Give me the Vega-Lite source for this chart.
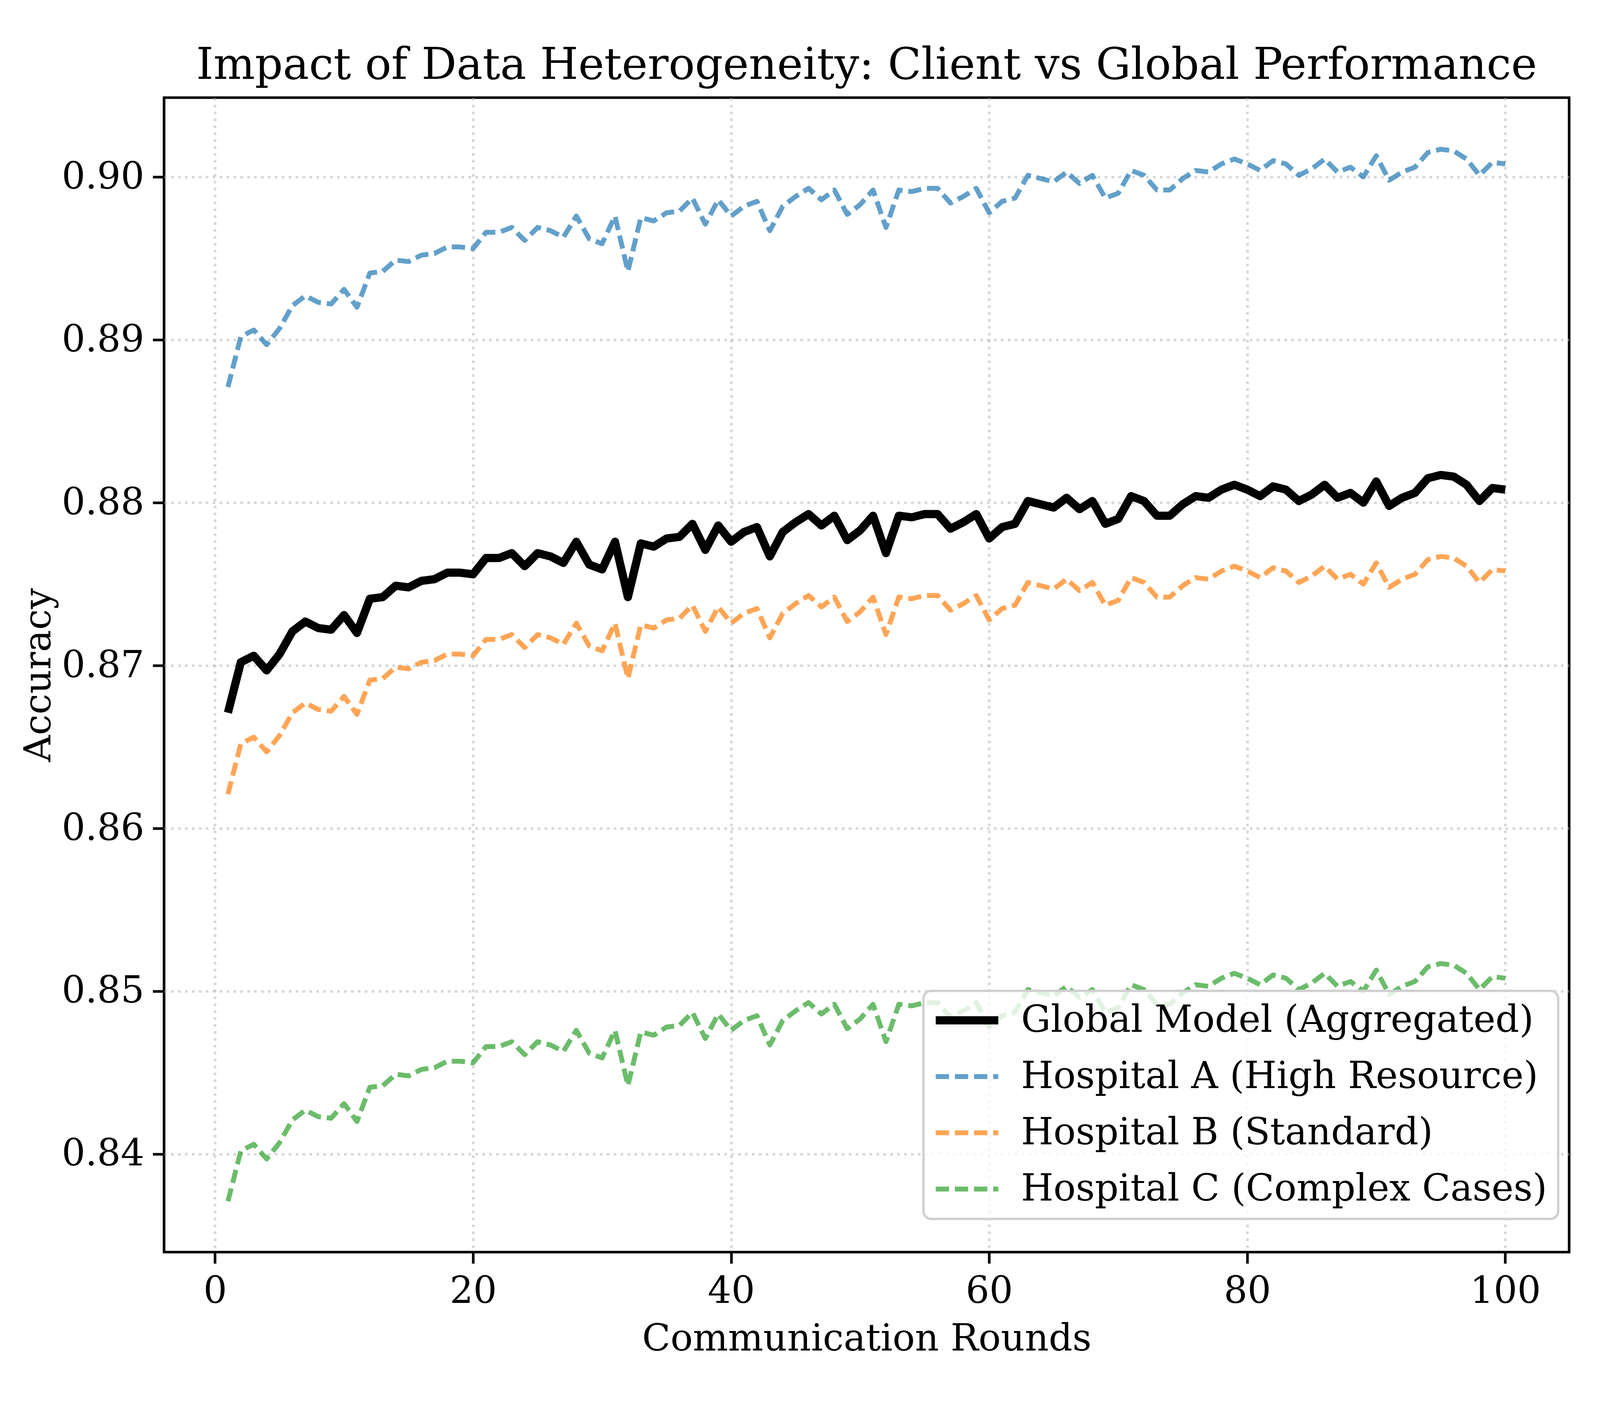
{
"$schema": "https://vega.github.io/schema/vega-lite/v6.json",
"width": 3597, "height": 2956,
"autosize": {"type": "none"},
"padding": {"left": 420, "top": 250, "right": 73, "bottom": 394},
"background": "white",
"title": {"text": "Impact of Data Heterogeneity: Client vs Global Performance", "font": "DejaVu Serif", "fontSize": 112, "fontWeight": "normal", "color": "black", "offset": 24},
"data": {"values": [
{"round":1,"series":"G","accuracy":0.8671},{"round":2,"series":"G","accuracy":0.8702},{"round":3,"series":"G","accuracy":0.8706},{"round":4,"series":"G","accuracy":0.8697},{"round":5,"series":"G","accuracy":0.8707},{"round":6,"series":"G","accuracy":0.8721},{"round":7,"series":"G","accuracy":0.8727},{"round":8,"series":"G","accuracy":0.8723},{"round":9,"series":"G","accuracy":0.8722},{"round":10,"series":"G","accuracy":0.8731},
{"round":11,"series":"G","accuracy":0.8720},{"round":12,"series":"G","accuracy":0.8741},{"round":13,"series":"G","accuracy":0.8742},{"round":14,"series":"G","accuracy":0.8749},{"round":15,"series":"G","accuracy":0.8748},{"round":16,"series":"G","accuracy":0.8752},{"round":17,"series":"G","accuracy":0.8753},{"round":18,"series":"G","accuracy":0.8757},{"round":19,"series":"G","accuracy":0.8757},{"round":20,"series":"G","accuracy":0.8756},
{"round":21,"series":"G","accuracy":0.8766},{"round":22,"series":"G","accuracy":0.8766},{"round":23,"series":"G","accuracy":0.8769},{"round":24,"series":"G","accuracy":0.8761},{"round":25,"series":"G","accuracy":0.8769},{"round":26,"series":"G","accuracy":0.8767},{"round":27,"series":"G","accuracy":0.8763},{"round":28,"series":"G","accuracy":0.8776},{"round":29,"series":"G","accuracy":0.8762},{"round":30,"series":"G","accuracy":0.8759},
{"round":31,"series":"G","accuracy":0.8776},{"round":32,"series":"G","accuracy":0.8742},{"round":33,"series":"G","accuracy":0.8775},{"round":34,"series":"G","accuracy":0.8773},{"round":35,"series":"G","accuracy":0.8778},{"round":36,"series":"G","accuracy":0.8779},{"round":37,"series":"G","accuracy":0.8787},{"round":38,"series":"G","accuracy":0.8771},{"round":39,"series":"G","accuracy":0.8786},{"round":40,"series":"G","accuracy":0.8776},
{"round":41,"series":"G","accuracy":0.8782},{"round":42,"series":"G","accuracy":0.8785},{"round":43,"series":"G","accuracy":0.8767},{"round":44,"series":"G","accuracy":0.8782},{"round":45,"series":"G","accuracy":0.8788},{"round":46,"series":"G","accuracy":0.8793},{"round":47,"series":"G","accuracy":0.8786},{"round":48,"series":"G","accuracy":0.8792},{"round":49,"series":"G","accuracy":0.8777},{"round":50,"series":"G","accuracy":0.8783},
{"round":51,"series":"G","accuracy":0.8792},{"round":52,"series":"G","accuracy":0.8769},{"round":53,"series":"G","accuracy":0.8792},{"round":54,"series":"G","accuracy":0.8791},{"round":55,"series":"G","accuracy":0.8793},{"round":56,"series":"G","accuracy":0.8793},{"round":57,"series":"G","accuracy":0.8784},{"round":58,"series":"G","accuracy":0.8788},{"round":59,"series":"G","accuracy":0.8793},{"round":60,"series":"G","accuracy":0.8778},
{"round":61,"series":"G","accuracy":0.8785},{"round":62,"series":"G","accuracy":0.8787},{"round":63,"series":"G","accuracy":0.8801},{"round":64,"series":"G","accuracy":0.8799},{"round":65,"series":"G","accuracy":0.8797},{"round":66,"series":"G","accuracy":0.8803},{"round":67,"series":"G","accuracy":0.8796},{"round":68,"series":"G","accuracy":0.8801},{"round":69,"series":"G","accuracy":0.8787},{"round":70,"series":"G","accuracy":0.8790},
{"round":71,"series":"G","accuracy":0.8804},{"round":72,"series":"G","accuracy":0.8801},{"round":73,"series":"G","accuracy":0.8792},{"round":74,"series":"G","accuracy":0.8792},{"round":75,"series":"G","accuracy":0.8799},{"round":76,"series":"G","accuracy":0.8804},{"round":77,"series":"G","accuracy":0.8803},{"round":78,"series":"G","accuracy":0.8808},{"round":79,"series":"G","accuracy":0.8811},{"round":80,"series":"G","accuracy":0.8808},
{"round":81,"series":"G","accuracy":0.8804},{"round":82,"series":"G","accuracy":0.8810},{"round":83,"series":"G","accuracy":0.8808},{"round":84,"series":"G","accuracy":0.8801},{"round":85,"series":"G","accuracy":0.8805},{"round":86,"series":"G","accuracy":0.8811},{"round":87,"series":"G","accuracy":0.8803},{"round":88,"series":"G","accuracy":0.8806},{"round":89,"series":"G","accuracy":0.8800},{"round":90,"series":"G","accuracy":0.8813},
{"round":91,"series":"G","accuracy":0.8798},{"round":92,"series":"G","accuracy":0.8803},{"round":93,"series":"G","accuracy":0.8806},{"round":94,"series":"G","accuracy":0.8815},{"round":95,"series":"G","accuracy":0.8817},{"round":96,"series":"G","accuracy":0.8816},{"round":97,"series":"G","accuracy":0.8811},{"round":98,"series":"G","accuracy":0.8801},{"round":99,"series":"G","accuracy":0.8809},{"round":100,"series":"G","accuracy":0.8808},
{"round":1,"series":"A","accuracy":0.8871},{"round":2,"series":"A","accuracy":0.8902},{"round":3,"series":"A","accuracy":0.8906},{"round":4,"series":"A","accuracy":0.8897},{"round":5,"series":"A","accuracy":0.8907},{"round":6,"series":"A","accuracy":0.8921},{"round":7,"series":"A","accuracy":0.8927},{"round":8,"series":"A","accuracy":0.8923},{"round":9,"series":"A","accuracy":0.8922},{"round":10,"series":"A","accuracy":0.8931},
{"round":11,"series":"A","accuracy":0.8920},{"round":12,"series":"A","accuracy":0.8941},{"round":13,"series":"A","accuracy":0.8942},{"round":14,"series":"A","accuracy":0.8949},{"round":15,"series":"A","accuracy":0.8948},{"round":16,"series":"A","accuracy":0.8952},{"round":17,"series":"A","accuracy":0.8953},{"round":18,"series":"A","accuracy":0.8957},{"round":19,"series":"A","accuracy":0.8957},{"round":20,"series":"A","accuracy":0.8956},
{"round":21,"series":"A","accuracy":0.8966},{"round":22,"series":"A","accuracy":0.8966},{"round":23,"series":"A","accuracy":0.8969},{"round":24,"series":"A","accuracy":0.8961},{"round":25,"series":"A","accuracy":0.8969},{"round":26,"series":"A","accuracy":0.8967},{"round":27,"series":"A","accuracy":0.8963},{"round":28,"series":"A","accuracy":0.8976},{"round":29,"series":"A","accuracy":0.8962},{"round":30,"series":"A","accuracy":0.8959},
{"round":31,"series":"A","accuracy":0.8976},{"round":32,"series":"A","accuracy":0.8942},{"round":33,"series":"A","accuracy":0.8975},{"round":34,"series":"A","accuracy":0.8973},{"round":35,"series":"A","accuracy":0.8978},{"round":36,"series":"A","accuracy":0.8979},{"round":37,"series":"A","accuracy":0.8987},{"round":38,"series":"A","accuracy":0.8971},{"round":39,"series":"A","accuracy":0.8986},{"round":40,"series":"A","accuracy":0.8976},
{"round":41,"series":"A","accuracy":0.8982},{"round":42,"series":"A","accuracy":0.8985},{"round":43,"series":"A","accuracy":0.8967},{"round":44,"series":"A","accuracy":0.8982},{"round":45,"series":"A","accuracy":0.8988},{"round":46,"series":"A","accuracy":0.8993},{"round":47,"series":"A","accuracy":0.8986},{"round":48,"series":"A","accuracy":0.8992},{"round":49,"series":"A","accuracy":0.8977},{"round":50,"series":"A","accuracy":0.8983},
{"round":51,"series":"A","accuracy":0.8992},{"round":52,"series":"A","accuracy":0.8969},{"round":53,"series":"A","accuracy":0.8992},{"round":54,"series":"A","accuracy":0.8991},{"round":55,"series":"A","accuracy":0.8993},{"round":56,"series":"A","accuracy":0.8993},{"round":57,"series":"A","accuracy":0.8984},{"round":58,"series":"A","accuracy":0.8988},{"round":59,"series":"A","accuracy":0.8993},{"round":60,"series":"A","accuracy":0.8978},
{"round":61,"series":"A","accuracy":0.8985},{"round":62,"series":"A","accuracy":0.8987},{"round":63,"series":"A","accuracy":0.9001},{"round":64,"series":"A","accuracy":0.8999},{"round":65,"series":"A","accuracy":0.8997},{"round":66,"series":"A","accuracy":0.9003},{"round":67,"series":"A","accuracy":0.8996},{"round":68,"series":"A","accuracy":0.9001},{"round":69,"series":"A","accuracy":0.8987},{"round":70,"series":"A","accuracy":0.8990},
{"round":71,"series":"A","accuracy":0.9004},{"round":72,"series":"A","accuracy":0.9001},{"round":73,"series":"A","accuracy":0.8992},{"round":74,"series":"A","accuracy":0.8992},{"round":75,"series":"A","accuracy":0.8999},{"round":76,"series":"A","accuracy":0.9004},{"round":77,"series":"A","accuracy":0.9003},{"round":78,"series":"A","accuracy":0.9008},{"round":79,"series":"A","accuracy":0.9011},{"round":80,"series":"A","accuracy":0.9008},
{"round":81,"series":"A","accuracy":0.9004},{"round":82,"series":"A","accuracy":0.9010},{"round":83,"series":"A","accuracy":0.9008},{"round":84,"series":"A","accuracy":0.9001},{"round":85,"series":"A","accuracy":0.9005},{"round":86,"series":"A","accuracy":0.9011},{"round":87,"series":"A","accuracy":0.9003},{"round":88,"series":"A","accuracy":0.9006},{"round":89,"series":"A","accuracy":0.9000},{"round":90,"series":"A","accuracy":0.9013},
{"round":91,"series":"A","accuracy":0.8998},{"round":92,"series":"A","accuracy":0.9003},{"round":93,"series":"A","accuracy":0.9006},{"round":94,"series":"A","accuracy":0.9015},{"round":95,"series":"A","accuracy":0.9017},{"round":96,"series":"A","accuracy":0.9016},{"round":97,"series":"A","accuracy":0.9011},{"round":98,"series":"A","accuracy":0.9001},{"round":99,"series":"A","accuracy":0.9009},{"round":100,"series":"A","accuracy":0.9008},
{"round":1,"series":"B","accuracy":0.8621},{"round":2,"series":"B","accuracy":0.8652},{"round":3,"series":"B","accuracy":0.8656},{"round":4,"series":"B","accuracy":0.8647},{"round":5,"series":"B","accuracy":0.8657},{"round":6,"series":"B","accuracy":0.8671},{"round":7,"series":"B","accuracy":0.8677},{"round":8,"series":"B","accuracy":0.8673},{"round":9,"series":"B","accuracy":0.8672},{"round":10,"series":"B","accuracy":0.8681},
{"round":11,"series":"B","accuracy":0.8670},{"round":12,"series":"B","accuracy":0.8691},{"round":13,"series":"B","accuracy":0.8692},{"round":14,"series":"B","accuracy":0.8699},{"round":15,"series":"B","accuracy":0.8698},{"round":16,"series":"B","accuracy":0.8702},{"round":17,"series":"B","accuracy":0.8703},{"round":18,"series":"B","accuracy":0.8707},{"round":19,"series":"B","accuracy":0.8707},{"round":20,"series":"B","accuracy":0.8706},
{"round":21,"series":"B","accuracy":0.8716},{"round":22,"series":"B","accuracy":0.8716},{"round":23,"series":"B","accuracy":0.8719},{"round":24,"series":"B","accuracy":0.8711},{"round":25,"series":"B","accuracy":0.8719},{"round":26,"series":"B","accuracy":0.8717},{"round":27,"series":"B","accuracy":0.8713},{"round":28,"series":"B","accuracy":0.8726},{"round":29,"series":"B","accuracy":0.8712},{"round":30,"series":"B","accuracy":0.8709},
{"round":31,"series":"B","accuracy":0.8726},{"round":32,"series":"B","accuracy":0.8692},{"round":33,"series":"B","accuracy":0.8725},{"round":34,"series":"B","accuracy":0.8723},{"round":35,"series":"B","accuracy":0.8728},{"round":36,"series":"B","accuracy":0.8729},{"round":37,"series":"B","accuracy":0.8737},{"round":38,"series":"B","accuracy":0.8721},{"round":39,"series":"B","accuracy":0.8736},{"round":40,"series":"B","accuracy":0.8726},
{"round":41,"series":"B","accuracy":0.8732},{"round":42,"series":"B","accuracy":0.8735},{"round":43,"series":"B","accuracy":0.8717},{"round":44,"series":"B","accuracy":0.8732},{"round":45,"series":"B","accuracy":0.8738},{"round":46,"series":"B","accuracy":0.8743},{"round":47,"series":"B","accuracy":0.8736},{"round":48,"series":"B","accuracy":0.8742},{"round":49,"series":"B","accuracy":0.8727},{"round":50,"series":"B","accuracy":0.8733},
{"round":51,"series":"B","accuracy":0.8742},{"round":52,"series":"B","accuracy":0.8719},{"round":53,"series":"B","accuracy":0.8742},{"round":54,"series":"B","accuracy":0.8741},{"round":55,"series":"B","accuracy":0.8743},{"round":56,"series":"B","accuracy":0.8743},{"round":57,"series":"B","accuracy":0.8734},{"round":58,"series":"B","accuracy":0.8738},{"round":59,"series":"B","accuracy":0.8743},{"round":60,"series":"B","accuracy":0.8728},
{"round":61,"series":"B","accuracy":0.8735},{"round":62,"series":"B","accuracy":0.8737},{"round":63,"series":"B","accuracy":0.8751},{"round":64,"series":"B","accuracy":0.8749},{"round":65,"series":"B","accuracy":0.8747},{"round":66,"series":"B","accuracy":0.8753},{"round":67,"series":"B","accuracy":0.8746},{"round":68,"series":"B","accuracy":0.8751},{"round":69,"series":"B","accuracy":0.8737},{"round":70,"series":"B","accuracy":0.8740},
{"round":71,"series":"B","accuracy":0.8754},{"round":72,"series":"B","accuracy":0.8751},{"round":73,"series":"B","accuracy":0.8742},{"round":74,"series":"B","accuracy":0.8742},{"round":75,"series":"B","accuracy":0.8749},{"round":76,"series":"B","accuracy":0.8754},{"round":77,"series":"B","accuracy":0.8753},{"round":78,"series":"B","accuracy":0.8758},{"round":79,"series":"B","accuracy":0.8761},{"round":80,"series":"B","accuracy":0.8758},
{"round":81,"series":"B","accuracy":0.8754},{"round":82,"series":"B","accuracy":0.8760},{"round":83,"series":"B","accuracy":0.8758},{"round":84,"series":"B","accuracy":0.8751},{"round":85,"series":"B","accuracy":0.8755},{"round":86,"series":"B","accuracy":0.8761},{"round":87,"series":"B","accuracy":0.8753},{"round":88,"series":"B","accuracy":0.8756},{"round":89,"series":"B","accuracy":0.8750},{"round":90,"series":"B","accuracy":0.8763},
{"round":91,"series":"B","accuracy":0.8748},{"round":92,"series":"B","accuracy":0.8753},{"round":93,"series":"B","accuracy":0.8756},{"round":94,"series":"B","accuracy":0.8765},{"round":95,"series":"B","accuracy":0.8767},{"round":96,"series":"B","accuracy":0.8766},{"round":97,"series":"B","accuracy":0.8761},{"round":98,"series":"B","accuracy":0.8751},{"round":99,"series":"B","accuracy":0.8759},{"round":100,"series":"B","accuracy":0.8758},
{"round":1,"series":"C","accuracy":0.8371},{"round":2,"series":"C","accuracy":0.8402},{"round":3,"series":"C","accuracy":0.8406},{"round":4,"series":"C","accuracy":0.8397},{"round":5,"series":"C","accuracy":0.8407},{"round":6,"series":"C","accuracy":0.8421},{"round":7,"series":"C","accuracy":0.8427},{"round":8,"series":"C","accuracy":0.8423},{"round":9,"series":"C","accuracy":0.8422},{"round":10,"series":"C","accuracy":0.8431},
{"round":11,"series":"C","accuracy":0.8420},{"round":12,"series":"C","accuracy":0.8441},{"round":13,"series":"C","accuracy":0.8442},{"round":14,"series":"C","accuracy":0.8449},{"round":15,"series":"C","accuracy":0.8448},{"round":16,"series":"C","accuracy":0.8452},{"round":17,"series":"C","accuracy":0.8453},{"round":18,"series":"C","accuracy":0.8457},{"round":19,"series":"C","accuracy":0.8457},{"round":20,"series":"C","accuracy":0.8456},
{"round":21,"series":"C","accuracy":0.8466},{"round":22,"series":"C","accuracy":0.8466},{"round":23,"series":"C","accuracy":0.8469},{"round":24,"series":"C","accuracy":0.8461},{"round":25,"series":"C","accuracy":0.8469},{"round":26,"series":"C","accuracy":0.8467},{"round":27,"series":"C","accuracy":0.8463},{"round":28,"series":"C","accuracy":0.8476},{"round":29,"series":"C","accuracy":0.8462},{"round":30,"series":"C","accuracy":0.8459},
{"round":31,"series":"C","accuracy":0.8476},{"round":32,"series":"C","accuracy":0.8442},{"round":33,"series":"C","accuracy":0.8475},{"round":34,"series":"C","accuracy":0.8473},{"round":35,"series":"C","accuracy":0.8478},{"round":36,"series":"C","accuracy":0.8479},{"round":37,"series":"C","accuracy":0.8487},{"round":38,"series":"C","accuracy":0.8471},{"round":39,"series":"C","accuracy":0.8486},{"round":40,"series":"C","accuracy":0.8476},
{"round":41,"series":"C","accuracy":0.8482},{"round":42,"series":"C","accuracy":0.8485},{"round":43,"series":"C","accuracy":0.8467},{"round":44,"series":"C","accuracy":0.8482},{"round":45,"series":"C","accuracy":0.8488},{"round":46,"series":"C","accuracy":0.8493},{"round":47,"series":"C","accuracy":0.8486},{"round":48,"series":"C","accuracy":0.8492},{"round":49,"series":"C","accuracy":0.8477},{"round":50,"series":"C","accuracy":0.8483},
{"round":51,"series":"C","accuracy":0.8492},{"round":52,"series":"C","accuracy":0.8469},{"round":53,"series":"C","accuracy":0.8492},{"round":54,"series":"C","accuracy":0.8491},{"round":55,"series":"C","accuracy":0.8493},{"round":56,"series":"C","accuracy":0.8493},{"round":57,"series":"C","accuracy":0.8484},{"round":58,"series":"C","accuracy":0.8488},{"round":59,"series":"C","accuracy":0.8493},{"round":60,"series":"C","accuracy":0.8478},
{"round":61,"series":"C","accuracy":0.8485},{"round":62,"series":"C","accuracy":0.8487},{"round":63,"series":"C","accuracy":0.8501},{"round":64,"series":"C","accuracy":0.8499},{"round":65,"series":"C","accuracy":0.8497},{"round":66,"series":"C","accuracy":0.8503},{"round":67,"series":"C","accuracy":0.8496},{"round":68,"series":"C","accuracy":0.8501},{"round":69,"series":"C","accuracy":0.8487},{"round":70,"series":"C","accuracy":0.8490},
{"round":71,"series":"C","accuracy":0.8504},{"round":72,"series":"C","accuracy":0.8501},{"round":73,"series":"C","accuracy":0.8492},{"round":74,"series":"C","accuracy":0.8492},{"round":75,"series":"C","accuracy":0.8499},{"round":76,"series":"C","accuracy":0.8504},{"round":77,"series":"C","accuracy":0.8503},{"round":78,"series":"C","accuracy":0.8508},{"round":79,"series":"C","accuracy":0.8511},{"round":80,"series":"C","accuracy":0.8508},
{"round":81,"series":"C","accuracy":0.8504},{"round":82,"series":"C","accuracy":0.8510},{"round":83,"series":"C","accuracy":0.8508},{"round":84,"series":"C","accuracy":0.8501},{"round":85,"series":"C","accuracy":0.8505},{"round":86,"series":"C","accuracy":0.8511},{"round":87,"series":"C","accuracy":0.8503},{"round":88,"series":"C","accuracy":0.8506},{"round":89,"series":"C","accuracy":0.8500},{"round":90,"series":"C","accuracy":0.8513},
{"round":91,"series":"C","accuracy":0.8498},{"round":92,"series":"C","accuracy":0.8503},{"round":93,"series":"C","accuracy":0.8506},{"round":94,"series":"C","accuracy":0.8515},{"round":95,"series":"C","accuracy":0.8517},{"round":96,"series":"C","accuracy":0.8516},{"round":97,"series":"C","accuracy":0.8511},{"round":98,"series":"C","accuracy":0.8501},{"round":99,"series":"C","accuracy":0.8509},{"round":100,"series":"C","accuracy":0.8508}
]},
"mark": {"type": "line", "strokeJoin": "round", "strokeCap": "butt"},
"encoding": {
  "x": {"field": "round", "type": "quantitative", "scale": {"domain": [-3.95, 104.95], "nice": false, "zero": false}, "axis": {"values": [0, 20, 40, 60, 80, 100], "title": "Communication Rounds", "titlePadding": 28, "labelPadding": 25}},
  "y": {"field": "accuracy", "type": "quantitative", "scale": {"domain": [0.83398, 0.90487], "nice": false, "zero": false}, "axis": {"values": [0.84, 0.85, 0.86, 0.87, 0.88, 0.89, 0.90], "format": ".2f", "title": "Accuracy", "titlePadding": 72, "labelPadding": 22}},
  "color": {"field": "series", "type": "nominal", "scale": {"domain": ["G", "A", "B", "C"], "range": ["#000000", "#1f77b4", "#ff7f0e", "#2ca02c"]}, "legend": {"title": null, "labelExpr": "datum.label == 'G' ? 'Global Model (Aggregated)' : datum.label == 'A' ? 'Hospital A (High Resource)' : datum.label == 'B' ? 'Hospital B (Standard)' : 'Hospital C (Complex Cases)'"}},
  "strokeDash": {"field": "series", "type": "nominal", "scale": {"domain": ["G", "A", "B", "C"], "range": [[1, 0], [34, 15], [34, 15], [34, 15]]}, "legend": {"title": null, "labelExpr": "datum.label == 'G' ? 'Global Model (Aggregated)' : datum.label == 'A' ? 'Hospital A (High Resource)' : datum.label == 'B' ? 'Hospital B (Standard)' : 'Hospital C (Complex Cases)'"}},
  "strokeWidth": {"field": "series", "type": "nominal", "scale": {"type": "ordinal", "domain": ["G", "A", "B", "C"], "range": [21, 12.5, 12.5, 12.5]}, "legend": {"title": null, "labelExpr": "datum.label == 'G' ? 'Global Model (Aggregated)' : datum.label == 'A' ? 'Hospital A (High Resource)' : datum.label == 'B' ? 'Hospital B (Standard)' : 'Hospital C (Complex Cases)'"}},
  "opacity": {"field": "series", "type": "nominal", "scale": {"type": "ordinal", "domain": ["G", "A", "B", "C"], "range": [1, 0.7, 0.7, 0.7]}, "legend": {"title": null, "labelExpr": "datum.label == 'G' ? 'Global Model (Aggregated)' : datum.label == 'A' ? 'Hospital A (High Resource)' : datum.label == 'B' ? 'Hospital B (Standard)' : 'Hospital C (Complex Cases)'"}}
},
"config": {
  "font": "DejaVu Serif",
  "view": {"stroke": "black", "strokeWidth": 6.7},
  "axis": {"labelFont": "DejaVu Serif", "labelFontSize": 95, "labelColor": "black", "labelLimit": 1000, "titleFont": "DejaVu Serif", "titleFontSize": 95, "titleFontWeight": "normal", "titleColor": "black", "tickColor": "black", "tickWidth": 6.7, "tickSize": 29, "domain": false, "grid": true, "gridColor": "#b0b0b0", "gridOpacity": 0.5, "gridWidth": 6.7, "gridDash": [6.7, 11], "labelFlush": false, "labelOverlap": false},
  "legend": {"orient": "none", "legendX": 1944, "legendY": 2287, "labelFont": "DejaVu Serif", "labelFontSize": 95, "labelColor": "black", "symbolType": "M-2.4,0H2.4", "symbolSize": 4444, "symbolOffset": 36, "labelOffset": 91, "rowPadding": 48, "padding": 28, "fillColor": "rgba(255,255,255,0.8)", "strokeColor": "#d0d0d0", "strokeWidth": 6, "cornerRadius": 20, "labelLimit": 3000}
}
}
